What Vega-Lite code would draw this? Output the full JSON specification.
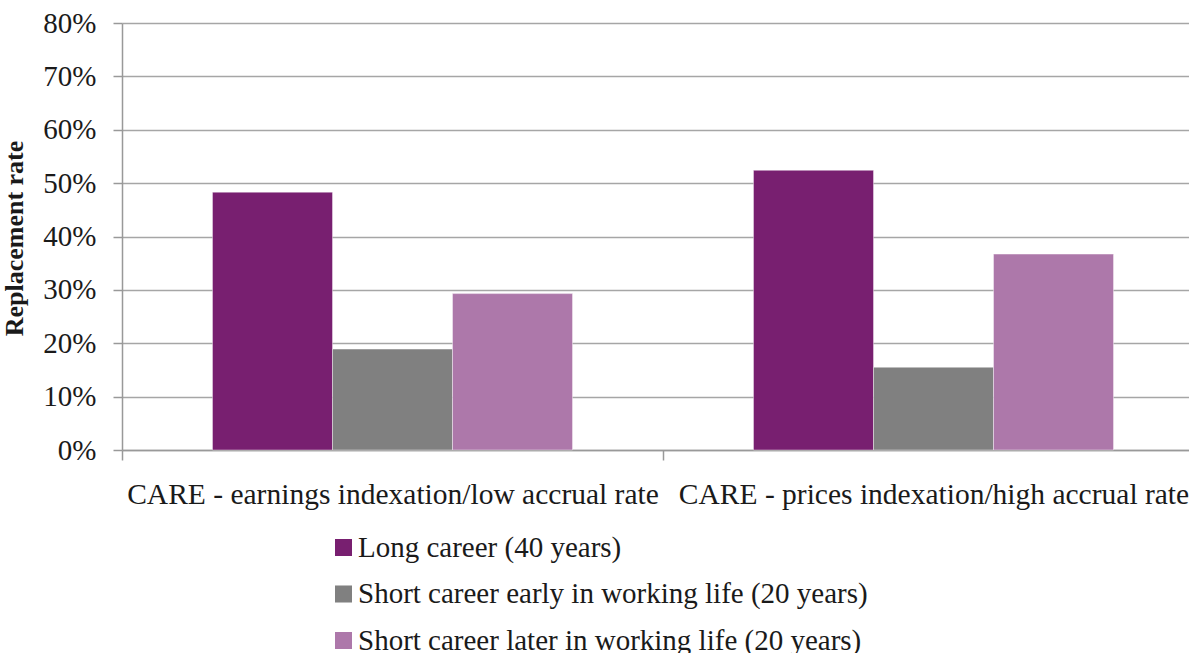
{
  "$schema": "https://vega.github.io/schema/vega-lite/v6.json",
  "width": 1067,
  "height": 427,
  "autosize": "none",
  "padding": {"left": 122, "top": 23, "right": 0, "bottom": 203},
  "background": "white",
  "data": {
    "values": [
      {"scheme": "CARE - earnings indexation/low accrual rate", "career": "Long career (40 years)", "rate": 0.483},
      {"scheme": "CARE - earnings indexation/low accrual rate", "career": "Short career early in working life (20 years)", "rate": 0.189},
      {"scheme": "CARE - earnings indexation/low accrual rate", "career": "Short career later in working life (20 years)", "rate": 0.293},
      {"scheme": "CARE - prices indexation/high accrual rate", "career": "Long career (40 years)", "rate": 0.524},
      {"scheme": "CARE - prices indexation/high accrual rate", "career": "Short career early in working life (20 years)", "rate": 0.155},
      {"scheme": "CARE - prices indexation/high accrual rate", "career": "Short career later in working life (20 years)", "rate": 0.367}
    ]
  },
  "mark": {"type": "bar", "stroke": "#ffffff", "strokeOpacity": 0.4, "strokeWidth": 1},
  "encoding": {
    "x": {
      "field": "scheme",
      "type": "nominal",
      "sort": null,
      "scale": {"paddingInner": 0, "paddingOuter": 0, "range": [0, 1082]},
      "axis": {
        "title": null,
        "labelAngle": 0,
        "labelFont": "Liberation Serif",
        "labelFontSize": 29.5,
        "labelColor": "#1a1a1a",
        "labelPadding": 20,
        "labelLimit": 2000,
        "labelOverlap": false,
        "labelBound": false,
        "tickBand": "extent",
        "tickSize": 10,
        "tickColor": "#999999",
        "tickWidth": 1.5,
        "domainColor": "#999999",
        "domainWidth": 1.5,
        "grid": false
      }
    },
    "xOffset": {
      "field": "career",
      "type": "nominal",
      "sort": null,
      "scale": {"paddingInner": 0, "paddingOuter": 0.754}
    },
    "y": {
      "field": "rate",
      "type": "quantitative",
      "scale": {"domain": [0, 0.8], "nice": false},
      "axis": {
        "title": "Replacement rate",
        "titleFont": "Liberation Serif",
        "titleFontSize": 26,
        "titleFontWeight": "bold",
        "titleColor": "#1a1a1a",
        "titleAngle": -90,
        "titleX": -100,
        "titleY": 215,
        "titleAlign": "center",
        "titleBaseline": "alphabetic",
        "values": [0, 0.1, 0.2, 0.3, 0.4, 0.5, 0.6, 0.7, 0.8],
        "format": ".0%",
        "labelFont": "Liberation Serif",
        "labelFontSize": 29,
        "labelColor": "#1a1a1a",
        "labelPadding": 17,
        "tickSize": 9,
        "tickColor": "#999999",
        "tickWidth": 1.5,
        "domainColor": "#999999",
        "domainWidth": 1.5,
        "grid": true,
        "gridColor": "#a6a6a6",
        "gridWidth": 1.5
      }
    },
    "color": {
      "field": "career",
      "type": "nominal",
      "sort": null,
      "scale": {
        "domain": ["Long career (40 years)", "Short career early in working life (20 years)", "Short career later in working life (20 years)"],
        "range": ["#781f70", "#808080", "#ad78aa"]
      },
      "legend": {
        "title": null,
        "orient": "none",
        "legendX": 207,
        "legendY": 510,
        "direction": "vertical",
        "symbolType": "square",
        "symbolSize": 290,
        "symbolStrokeWidth": 0,
        "symbolOpacity": 1,
        "labelFont": "Liberation Serif",
        "labelFontSize": 29,
        "labelColor": "#1a1a1a",
        "labelOffset": 0,
        "labelLimit": 1000,
        "rowPadding": 16.5
      }
    }
  },
  "config": {"view": {"stroke": null}}
}
